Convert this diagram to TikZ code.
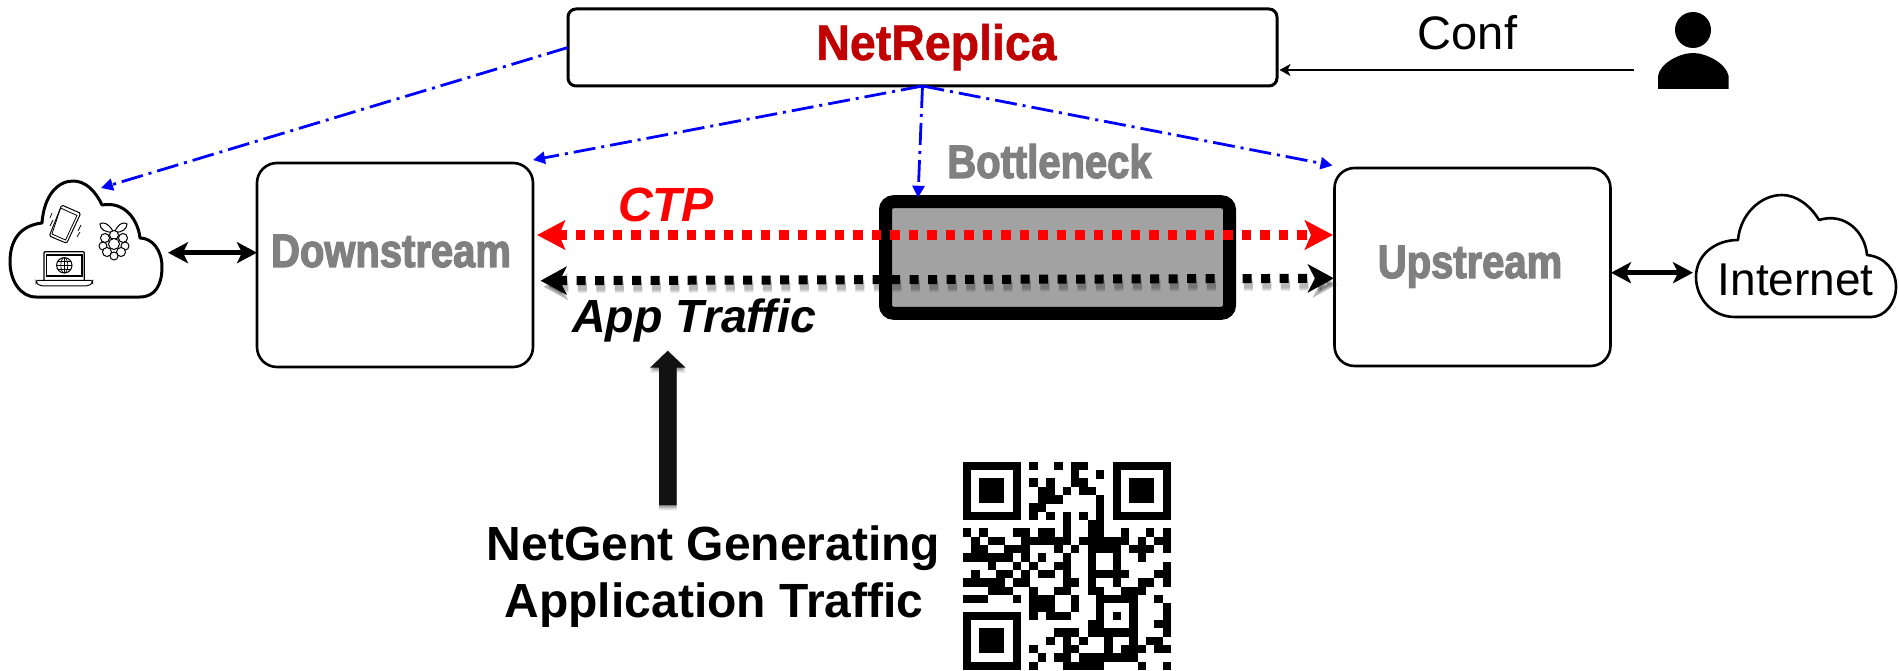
\documentclass[tikz,border=0pt]{standalone}
\usepackage{fontspec}
\usetikzlibrary{arrows.meta,calc}
\setmainfont{Liberation Sans}
\newfontfamily\heavyfont[BoldFeatures={FakeBold=2.6,FakeStretch=0.85}]{Liberation Sans}
\newfontfamily\netfont[BoldFeatures={FakeBold=1,FakeStretch=0.93}]{Liberation Sans}
\definecolor{boxred}{HTML}{C00000}
\definecolor{labelgray}{HTML}{808080}
\definecolor{bnfill}{HTML}{A2A2A2}
\tikzset{
  x=1pt,y=-1pt,
  boxnode/.style={draw=black,fill=white,line width=2.6pt,rounded corners=20pt,inner sep=0pt,outer sep=0pt},
  heavylabel/.style={anchor=base,inner sep=0pt,text=labelgray,font=\heavyfont\bfseries\fontsize{47}{50}\selectfont},
  ctrl/.style={blue,line width=2.8pt,dash pattern=on 22pt off 6pt on 3pt off 6pt,-{Triangle[length=12pt,width=12pt]}},
  redflow/.style={red,line width=9.5pt,dash pattern=on 9.5pt off 9pt,{Stealth[length=28pt,width=29pt,inset=6pt]}-{Stealth[length=28pt,width=29pt,inset=6pt]}},
  blackflow/.style={black,line width=9pt,dash pattern=on 9pt off 9.5pt,{Stealth[length=26pt,width=28pt,inset=7pt]}-{Stealth[length=26pt,width=28pt,inset=7pt]}},
  flowshadow/.style={line width=#1,dash pattern=on 9pt off 9.5pt,black,opacity=0.08,{Stealth[length=24pt,width=26pt,inset=7pt]}-{Stealth[length=24pt,width=26pt,inset=7pt]}},
  linkarrow/.style={black,line width=5pt,{Stealth[length=20pt,width=21pt,inset=5pt]}-{Stealth[length=20pt,width=21pt,inset=5pt]}},
  cloudline/.style={draw=black,line width=2.8pt,line join=round},
  icon/.style={draw=black,line width=1pt},
}
\begin{document}
\begin{tikzpicture}
\useasboundingbox (0,0) rectangle (1899,671);
\fill[white] (0,0) rectangle (1899,671);

% QR code
\begin{scope}[shift={(962.7,461.7)},x=8.33pt,y=-8.33pt]
  \foreach \ox/\oy in {0/0,18/0,0/18}{
    \fill[black] (\ox,\oy) rectangle ++(7,7);
    \fill[white] (\ox+1,\oy+1) rectangle ++(5,5);
    \fill[black] (\ox+2,\oy+2) rectangle ++(3,3);
  }
  \foreach \r/\cols in {
    0/{8,11,13,14},
    1/{13,16},
    2/{8,10,13,14},
    3/{9,10,12,14,15},
    4/{9,10,11,16},
    5/{8,9,16},
    6/{8,10,12,14,16},
    7/{12,15,16},
    8/{0,2,6,7,9,10,12,15,16,19,22,24},
    9/{1,3,4,7,8,9,10,11,12,14,15,16,17,18,19,21,23,24},
    10/{1,2,5,6,7,11,13,15,16,17,18,20,21,22,24},
    11/{0,1,2,3,4,5,7,9,12,15,18,21},
    12/{3,6,8,11,12,15,18,24},
    13/{1,4,5,7,9,10,12,15,16,17,18,19,23,24},
    14/{0,1,2,3,4,6,7,12,13,15,18,21,22,24},
    15/{3,4,5,8,11,12,15,16,19,20,21},
    16/{0,1,2,6,8,9,10,13,16,17,18,19,20,23},
    17/{8,9,10,13,16,20,24},
    18/{8,10,11,12,16,18,20,24},
    19/{15,16,20,23,24},
    20/{11,12,13,15,16,17,18,19,20,24},
    21/{10,12,14,17,20,22,23},
    22/{8,12,13,17,19,20,21,23,24},
    23/{9,11,12,14,15,16,17,18,19,20},
    24/{8,12,13,14,15,16,21,24}}{
    \foreach \c in \cols { \fill[black] (\c,\r) rectangle ++(1.02,1.02); }
  }
\end{scope}

% boxes
\node[boxnode,rounded corners=8pt,line width=3pt,minimum width=709pt,minimum height=77pt] (net) at (922.5,47.5) {};
\node[boxnode,minimum width=276pt,minimum height=204pt] (down) at (395,265) {};
\node[boxnode,minimum width=276pt,minimum height=198pt] (up) at (1472.5,267) {};
\node[draw=black,fill=bnfill,line width=13pt,rounded corners=8pt,inner sep=0pt,outer sep=0pt,minimum width=344pt,minimum height=111.5pt] (bn) at (1057.5,257.5) {};

% labels
\node[anchor=base,inner sep=0pt,text=boxred,font=\netfont\bfseries\fontsize{50}{52}\selectfont] (netlabel) at (936.5,60) {NetReplica};
\node[heavylabel] (downlabel) at (391,267) {Downstream};
\node[heavylabel] (uplabel) at (1470,278) {Upstream};
\node[heavylabel] (bnlabel) at (1049.5,178) {Bottleneck};
\node[anchor=base,inner sep=0pt,text=red,font=\bfseries\itshape\fontsize{48}{50}\selectfont] (ctplabel) at (666,222) {CTP};
\node[anchor=base,inner sep=0pt,font=\bfseries\itshape\fontsize{46.5}{50}\selectfont] (applabel) at (694,332) {App Traffic};
\node[anchor=base,inner sep=0pt,font=\fontsize{47}{50}\selectfont] (conflabel) at (1467.5,50) {Conf};
\node[anchor=base,inner sep=0pt,font=\bfseries\fontsize{48}{50}\selectfont] (gen1) at (713.5,560) {NetGent Generating};
\node[anchor=base,inner sep=0pt,font=\bfseries\fontsize{48}{50}\selectfont] (gen2) at (714,617) {Application Traffic};

% device cloud
\draw[cloudline,line width=3pt] (36,297) -- (140,297) .. controls (155,297) and (162,285) .. (162,267)
  .. controls (162,250) and (152,238) .. (140,238) .. controls (138,220) and (125,201) .. (102,205)
  .. controls (95,190) and (85,181) .. (73,181) .. controls (58,181) and (44,195) .. (42,223)
  .. controls (25,225) and (10,235) .. (10,262) .. controls (10,280) and (20,297) .. (36,297) -- cycle;
% phone
\draw[icon,rounded corners=1.5pt] (61.7,205) -- (80.7,213.3) -- (66.7,243.3) -- (49.3,236) -- cycle;
\draw[icon,line width=.8pt] (60.5,208) -- (77,215.5) -- (65.5,240) -- (52,234) -- cycle;
\draw[icon,line width=.7pt] (52,213) -- (50,218) (53,220) -- (50,226) (81,225) -- (78,231) (80,232) -- (77,237);
% raspberry
\draw[icon] (113.5,232) .. controls (108,222) and (102,222) .. (100,224) .. controls (100,229) and (105,233) .. (113.5,232) -- cycle;
\draw[icon] (114.5,232) .. controls (119,222) and (125,222) .. (127,224) .. controls (127,229) and (122,233) .. (114.5,232) -- cycle;
\foreach \cx/\cy/\rr in {114/235/4.5,105/238/4.5,123/238/4.5,114/244/5.5,103/246/4,125/246/4,107/252/4.5,121/252/4.5,114/256/4}{
  \draw[icon,fill=white] (\cx,\cy) circle[radius=\rr];
}
% laptop
\draw[icon,line width=1.2pt,rounded corners=1pt] (44,280) -- (44,251.7) -- (84.3,251.7) -- (84.3,280);
\draw[icon,line width=1.2pt] (46.7,255) rectangle (82,276);
\draw[icon,rounded corners=2pt] (36,280.5) -- (92.7,280.5) -- (92.7,283) -- (88,286) -- (41,286) -- (36,283) -- cycle;
\draw[icon] (58,281) -- (70,281);
\draw[icon] (64.3,265.3) circle[radius=7.7];
\draw[icon,line width=.7pt] (64.3,257.6) -- (64.3,273) (56.6,265.3) -- (72,265.3) (58,261) -- (70.6,261) (58,269.6) -- (70.6,269.6);
\draw[icon,line width=.7pt] (64.3,265.3) ellipse[x radius=3.5,y radius=7.7];

% internet cloud
\draw[cloudline,line width=2.6pt] (1735,317) -- (1871,317) .. controls (1885,317) and (1896,303) .. (1896,287)
  .. controls (1896,270) and (1885,257) .. (1867,255) .. controls (1865,232) and (1845,212) .. (1819,220)
  .. controls (1810,205) and (1796,195) .. (1782,195) .. controls (1760,195) and (1740,215) .. (1738,240)
  .. controls (1715,240) and (1696,255) .. (1696,277) .. controls (1696,298) and (1712,317) .. (1735,317) -- cycle;
\node[anchor=base,inner sep=0pt,font=\fontsize{46}{50}\selectfont] (internet) at (1795.7,295) {Internet};

% person
\fill[black] (1693,30) ellipse[x radius=18,y radius=18];
\fill[black] (1658,89) -- (1658,76) .. controls (1660,63) and (1680,53) .. (1693,53)
  .. controls (1706,53) and (1726,63) .. (1728.6,76) -- (1728.6,89) -- cycle;

% named free ends
\coordinate (devctl) at (101,188);
\coordinate (devlink) at (168,252.7);
\coordinate (inetlink) at (1693,272.7);
\coordinate (userout) at (1634,70);
\coordinate (gensrc) at (667.7,505);

% control lines
\draw[ctrl] (net.west) -- (devctl);
\draw[ctrl] (net.south) -- ([yshift=3pt]down.north east);
\draw[ctrl] (net.south) -- ([xshift=-139.5pt,yshift=4pt]bn.north);
\draw[ctrl] (net.south) -- ([xshift=-2pt,yshift=2.5pt]up.north west);

% conf
\draw[black,line width=2.6pt,-{Stealth[length=11pt,width=12pt,inset=3pt]}] (userout) -- ([xshift=2.5pt,yshift=-22.5pt]net.east);

% red flow
\draw[redflow] ([xshift=4pt,yshift=30pt]down.east) -- ([xshift=-1.5pt,yshift=32pt]up.west);

% black flow with soft shadow
\coordinate (bL) at ([xshift=7.6pt,yshift=-15.7pt]down.east);
\coordinate (bR) at ([xshift=-.6pt,yshift=-11.3pt]up.west);
\coordinate (bLs) at ([xshift=3pt,yshift=-6pt]bL);
\coordinate (bRs) at ([xshift=3pt,yshift=-6pt]bR);
\draw[flowshadow=13pt] (bLs) -- (bRs);
\draw[flowshadow=11pt] (bLs) -- (bRs);
\draw[flowshadow=9pt] (bLs) -- (bRs);
\draw[flowshadow=7pt] (bLs) -- (bRs);
\draw[blackflow] (bL) -- (bR);

% links
\draw[linkarrow] (devlink) -- ([yshift=12.3pt]down.west);
\draw[linkarrow] ([xshift=.5pt,yshift=-5.7pt]up.east) -- (inetlink);

% big arrow
\foreach \s/\o in {1/0.25,3/0.2,5/0.12}{
  \fill[black,opacity=\o,shift={(0,\s)}] (650,367.7) -- (667.7,350.7) -- (685.7,367.7) -- (676.7,367.7) -- (676.7,505) -- (659,505) -- (659,367.7) -- cycle;
}
\fill[black!93] (gensrc) -- (659,505) -- (659,367.7) -- (650,367.7) -- (667.7,350.7) -- (685.7,367.7) -- (676.7,367.7) -- (676.7,505) -- cycle;
\end{tikzpicture}
\end{document}
